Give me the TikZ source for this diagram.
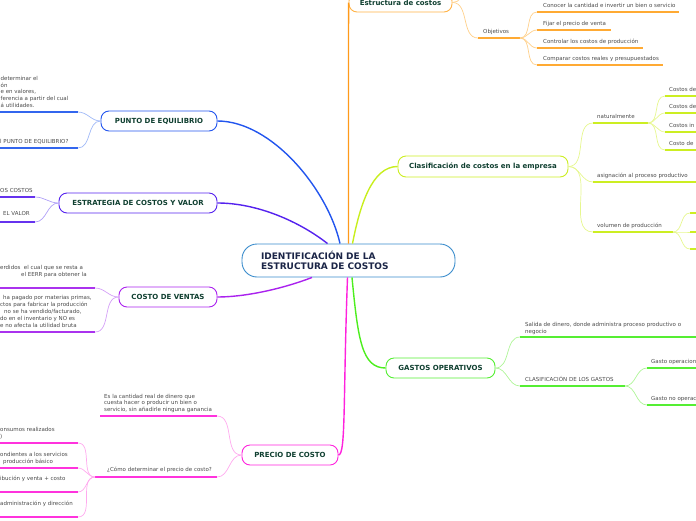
\documentclass[tikz,border=0pt]{standalone}
\usepackage{fontspec}
\setmainfont{DejaVu Sans}
\usetikzlibrary{calc}
\definecolor{orgM}{HTML}{FF9A1A}
\definecolor{orgU}{HTML}{FFAA33}
\definecolor{orgC}{HTML}{FFD08A}
\definecolor{orgB}{HTML}{FFB347}
\definecolor{ylwM}{HTML}{C8EE1E}
\definecolor{ylwU}{HTML}{CCEE22}
\definecolor{ylwC}{HTML}{E6F78F}
\definecolor{grnM}{HTML}{4DEE1E}
\definecolor{grnU}{HTML}{55EE33}
\definecolor{grnC}{HTML}{AEF597}
\definecolor{bluM}{HTML}{2255EE}
\definecolor{bluU}{HTML}{3366EE}
\definecolor{bluC}{HTML}{9FB8F7}
\definecolor{indM}{HTML}{5522EE}
\definecolor{indU}{HTML}{6633EE}
\definecolor{indC}{HTML}{B0A0F7}
\definecolor{purM}{HTML}{AA22EE}
\definecolor{purU}{HTML}{AA33EE}
\definecolor{purC}{HTML}{D4A0F7}
\definecolor{magM}{HTML}{FF22DD}
\definecolor{magU}{HTML}{FF33DD}
\definecolor{magC}{HTML}{FFAAEE}
\definecolor{rootB}{HTML}{3A8CCC}
\definecolor{roottxt}{HTML}{1B2547}
\definecolor{nodetxt}{HTML}{0F3F30}
\definecolor{txtc}{HTML}{4A4A4A}
\begin{document}
\begin{tikzpicture}[x=1pt,y=-1pt,
  rootbox/.style={draw=rootB, fill=white, line width=0.9pt, rounded corners=15pt,
    minimum width=213pt, minimum height=33pt, text width=175pt, inner xsep=19pt,
    inner ysep=0pt, align=left, font=\bfseries\fontsize{9}{10.5}\selectfont, text=roottxt},
  hub/.style={fill=white, rounded corners=8pt, line width=0.9pt,
    font=\bfseries\fontsize{7}{8.5}\selectfont, text=nodetxt, minimum height=20pt, inner sep=0pt},
  lbl/.style={inner sep=0pt, font=\fontsize{5.5}{6.6}\selectfont, text=txtc, align=left},
  sgl/.style={lbl, anchor=base west},
  mul/.style={lbl, anchor=north west},
  mainline/.style={line width=1.4pt},
  twig/.style={line width=0.7pt},
  bar/.style={line width=1.8pt}]
\useasboundingbox (0,0) rectangle (696,520);
\clip (0,0) rectangle (696,520);

% ---------- main nodes
\node[rootbox] (root) at (348.5,260.5) {IDENTIFICACIÓN DE LA\\ESTRUCTURA DE COSTOS};
\node[hub, draw=orgB, minimum width=103pt, minimum height=19pt] (estr) at (400.5,2.5) {Estructura de costos};
\node[hub, draw=ylwU, minimum width=170pt, minimum height=21pt] (clas) at (483,166.5) {Clasificación de costos en la empresa};
\node[hub, draw=grnU, minimum width=109pt] (gast) at (440.5,368) {GASTOS OPERATIVOS};
\node[hub, draw=bluM, minimum width=116pt] (punto) at (159,121) {PUNTO DE EQUILIBRIO};
\node[hub, draw=indM, minimum width=158pt] (estra) at (138,203) {ESTRATEGIA DE COSTOS Y VALOR};
\node[hub, draw=purM, minimum width=98pt] (costo) at (168,297) {COSTO DE VENTAS};
\node[hub, draw=magM, minimum width=96pt] (precio) at (290,455) {PRECIO DE COSTO};

% ---------- main connectors
\draw[mainline, orgM] (root.north) -- (estr.west);
\draw[mainline, ylwM] ([xshift=4pt]root.north) .. controls (360,205) and (372,166.5) .. (clas.west);
\draw[mainline, bluM] ([xshift=-8.5pt]root.north) .. controls (328,190) and (272,121) .. (punto.east);
\draw[mainline, indM] ([xshift=-21pt]root.north) .. controls (300,222) and (258,203) .. (estra.east);
\draw[mainline, purM] ([xshift=-36.5pt]root.south) .. controls (282,289) and (245,297) .. (costo.east);
\draw[mainline, magM] ([xshift=-1pt]root.south) .. controls (343,400) and (346,455) .. (precio.east);
\draw[mainline, grnM] ([xshift=3.5pt]root.south) .. controls (358,340) and (362,368) .. (gast.west);

% ---------- Estructura de costos
\coordinate (o0) at (478,-22);
\coordinate (oa) at (478,38);
\coordinate (ob) at (520,38);
\draw[twig,orgC] (estr.east) to[out=0,in=180] (o0);
\draw[twig,orgC] (estr.east) to[out=0,in=180] (oa);
\draw[bar,orgU] (oa) -- (ob);
\node[sgl] (tobj) at (483,33.4) {Objetivos};
\foreach \i/\y/\xe/\t in {1/12/679/{Conocer la cantidad e invertir un bien o servicio},
    2/30/611/{Fijar el precio de venta},
    3/48/643/{Controlar los costos de producción},
    4/65/663/{Comparar costos reales y presupuestados}} {
  \coordinate (oc\i-l) at (537,\y);
  \coordinate (oc\i-r) at (\xe,\y);
  \draw[twig,orgC] (ob) to[out=0,in=180] (oc\i-l);
  \draw[bar,orgU] (oc\i-l) -- (oc\i-r);
  \node[sgl] (oc\i-t) at (543,\y-4.6) {\t};
}

% ---------- Clasificacion
\coordinate (na) at (593,123); \coordinate (nb) at (648,123);
\coordinate (aa) at (593,182); \coordinate (ab) at (700,182);
\coordinate (va) at (593,232); \coordinate (vb) at (673,232);
\foreach \p in {na,aa,va} {\draw[twig,ylwC] (clas.east) to[out=0,in=180] (\p);}
\draw[bar,ylwU] (na) -- (nb);
\draw[bar,ylwU] (aa) -- (ab);
\draw[bar,ylwU] (va) -- (vb);
\node[sgl] (tn) at (597,118.4) {naturalmente};
\node[sgl] (ta) at (597,177.4) {asignación al proceso productivo};
\node[sgl] (tv) at (597,227.4) {volumen de producción};
\foreach \i/\y/\t in {1/96/{Costos de}, 2/113/{Costos de}, 3/132/{Costos in}, 4/150/{Costo de}} {
  \coordinate (nc\i-l) at (665,\y);
  \coordinate (nc\i-r) at (700,\y);
  \draw[twig,ylwC] (nb) to[out=0,in=180] (nc\i-l);
  \draw[bar,ylwU] (nc\i-l) -- (nc\i-r);
  \node[sgl] (nc\i-t) at (669,\y-4.6) {\t};
}
\foreach \i/\y in {1/213, 2/232, 3/249} {
  \coordinate (vc\i-l) at (690,\y);
  \coordinate (vc\i-r) at (700,\y);
  \draw[twig,ylwC] (vb) to[out=0,in=180] (vc\i-l);
  \draw[bar,ylwU] (vc\i-l) -- (vc\i-r);
}

% ---------- Gastos operativos
\coordinate (sa) at (520,337); \coordinate (sb) at (700,337);
\coordinate (ca) at (520,386); \coordinate (cb) at (625,386);
\coordinate (g1a) at (647,368); \coordinate (g1b) at (700,368);
\coordinate (g2a) at (647,405); \coordinate (g2b) at (700,405);
\draw[twig,grnC] (gast.east) to[out=0,in=180] (sa);
\draw[twig,grnC] (gast.east) to[out=0,in=180] (ca);
\draw[twig,grnC] (cb) to[out=0,in=180] (g1a);
\draw[twig,grnC] (cb) to[out=0,in=180] (g2a);
\draw[bar,grnU] (sa) -- (sb);
\draw[bar,grnU] (ca) -- (cb);
\draw[bar,grnU] (g1a) -- (g1b);
\draw[bar,grnU] (g2a) -- (g2b);
\node[mul] (ts) at (525,322.3) {Salida de dinero, donde administra proceso productivo o\\negocio};
\node[sgl] (tc) at (525,381.4) {CLASIFICACIÓN DE LOS GASTOS};
\node[sgl] (tg1) at (651,363.4) {Gasto operacion};
\node[sgl] (tg2) at (651,400.4) {Gasto no operac};

% ---------- Punto de equilibrio
\coordinate (p1a) at (78,112); \coordinate (p1b) at (0,112);
\coordinate (p2a) at (78,148); \coordinate (p2b) at (0,148);
\draw[twig,bluC] (punto.west) to[out=180,in=0] (p1a);
\draw[twig,bluC] (punto.west) to[out=180,in=0] (p2a);
\draw[bar,bluU] (p1b) -- (p1a);
\draw[bar,bluU] (p2b) -- (p2a);
\node[mul] (tp1) at (0.5,76.3) {determinar el\\ón\\e en valores,\\ferencia a partir del cual\\á utilidades.};
\node[sgl] (tp2) at (0,143.4) {l PUNTO DE EQUILIBRIO?};

% ---------- Estrategia
\coordinate (e1a) at (35,197); \coordinate (e1b) at (0,197);
\coordinate (e2a) at (35,222); \coordinate (e2b) at (0,222);
\draw[twig,indC] (estra.west) to[out=180,in=0] (e1a);
\draw[twig,indC] (estra.west) to[out=180,in=0] (e2a);
\draw[bar,indU] (e1b) -- (e1a);
\draw[bar,indU] (e2b) -- (e2a);
\node[sgl] (te1) at (0,192.4) {OS COSTOS};
\node[sgl] (te2) at (3,215.4) {EL VALOR};

% ---------- Costo de ventas
\coordinate (c1a) at (95,288); \coordinate (c1b) at (0,288);
\coordinate (c2a) at (95,332); \coordinate (c2b) at (0,332);
\draw[twig,purC] (costo.west) to[out=180,in=0] (c1a);
\draw[twig,purC] (costo.west) to[out=180,in=0] (c2a);
\draw[bar,purU] (c1b) -- (c1a);
\draw[bar,purU] (c2b) -- (c2a);
\node[mul] (tc1) at (0,265.3) {erdidos\ \ el cual que se resta a\\\hspace*{21pt}el EERR para obtener la};
\node[mul, font=\fontsize{5.5}{6.85}\selectfont] (tc2) at (0,295.6) {\hspace*{3pt}ha pagado por materias primas,\\ctos para fabricar la producción\\\hspace*{4pt}no se ha vendido/facturado,\\do en el inventario y NO es\\e no afecta la utilidad bruta};

% ---------- Precio de costo
\coordinate (m1a) at (217,416); \coordinate (m1b) at (100,416);
\coordinate (m2a) at (217,477); \coordinate (m2b) at (95,477);
\draw[twig,magC] (precio.west) to[out=180,in=0] (m1a);
\draw[twig,magC] (precio.west) to[out=180,in=0] (m2a);
\draw[bar,magU] (m1b) -- (m1a);
\draw[bar,magU] (m2b) -- (m2a);
\node[mul] (tm1) at (104,394.0) {Es la cantidad real de dinero que\\cuesta hacer o producir un bien o\\servicio, sin añadirle ninguna ganancia};
\node[sgl] (tm2) at (107,471.4) {¿Cómo determinar el precio de costo?};
\foreach \i/\y in {1/443, 2/468, 3/492, 4/517} {
  \coordinate (mc\i-l) at (78,\y);
  \coordinate (mc\i-r) at (0,\y);
  \draw[twig,magC] (m2b) to[out=180,in=0] (mc\i-l);
  \draw[bar,magU] (mc\i-r) -- (mc\i-l);
}
\node[mul] (tq1) at (0,427.3) {onsumos realizados\\)};
\node[mul] (tq2) at (0,452.3) {ondientes a los servicios\\\hspace*{3pt}producción básico};
\node[sgl] (tq3) at (0,480.4) {ibución y venta + costo};
\node[sgl] (tq4) at (0,505.4) {administración y dirección};
\end{tikzpicture}
\end{document}
